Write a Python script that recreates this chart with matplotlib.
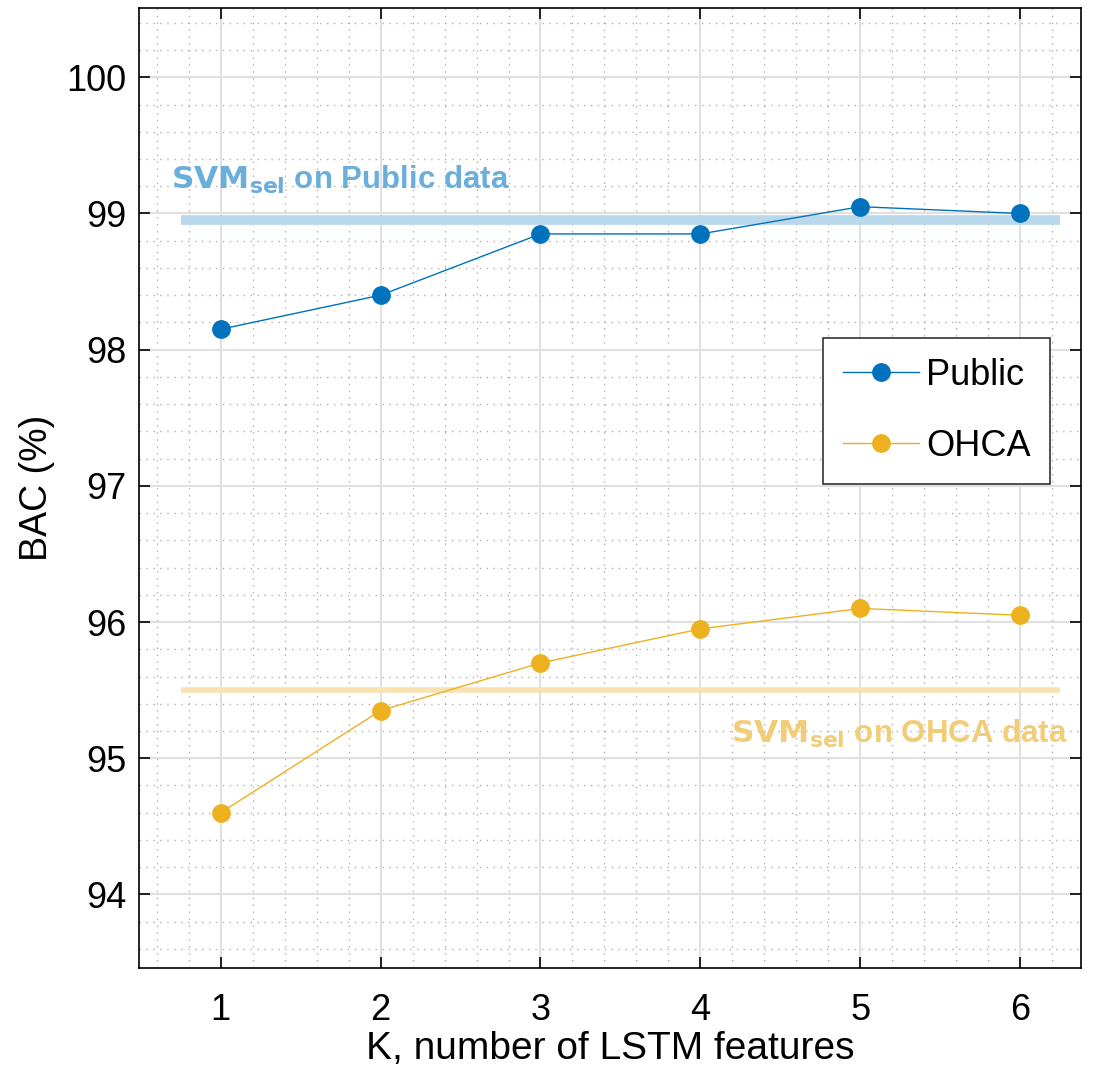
import numpy as np
import matplotlib.pyplot as plt
from matplotlib.ticker import MultipleLocator

plt.rcParams['font.family'] = ['Liberation Sans', 'DejaVu Sans']

k = [1, 2, 3, 4, 5, 6]
bac_public = [98.15, 98.4, 98.85, 98.85, 99.05, 99.0]
bac_ohca = [94.6, 95.35, 95.7, 95.95, 96.1, 96.05]
svm_public = 98.95
svm_ohca = 95.5

blue = '#0072BD'
yellow = '#EDB120'

fig = plt.figure(figsize=(11.07, 10.74), dpi=100)
ax = fig.add_axes([0.1256, 0.0987, 0.851, 0.894])

# reference levels of the SVM
ax.plot([0.75, 6.25], [svm_public, svm_public], color='#b9d8ec', lw=7, solid_capstyle='butt', zorder=2)
ax.plot([0.75, 6.25], [svm_ohca, svm_ohca], color='#f7e2b0', lw=4, solid_capstyle='butt', zorder=2)

ax.plot(k, bac_public, '-o', color=blue, lw=1, ms=12.5, label='Public', zorder=3)
ax.plot(k, bac_ohca, '-o', color=yellow, lw=1, ms=12.5, label='OHCA', zorder=3)

ax.text(0.69, 99.18, r'$\mathbf{SVM_{sel}}$ on Public data', color='#6aaedb', fontsize=22.5,
        fontweight='bold')
ax.text(4.19, 95.11, r'$\mathbf{SVM_{sel}}$ on OHCA data', color='#f2cd78', fontsize=22.5,
        fontweight='bold')

ax.set_xlim(0.49, 6.38)
ax.set_ylim(93.46, 100.51)
ax.xaxis.set_major_locator(MultipleLocator(1))
ax.yaxis.set_major_locator(MultipleLocator(1))
ax.xaxis.set_minor_locator(MultipleLocator(0.2))
ax.yaxis.set_minor_locator(MultipleLocator(0.2))
ax.grid(which='major', color='#e0e0e0', lw=1.5)
ax.grid(which='minor', color='#b0b0b0', lw=1, ls=(0, (1, 4)))
ax.set_axisbelow(True)

ax.tick_params(which='major', direction='in', length=8, width=1.2, top=True, right=True,
               labelsize=26)
ax.tick_params(axis='x', pad=18)
ax.tick_params(axis='y', pad=9)
ax.tick_params(which='minor', length=0)
for s in ax.spines.values():
    s.set_linewidth(1.2)

ax.set_xlabel('K, number of LSTM features', fontsize=28, labelpad=2)
ax.set_ylabel('BAC (%)', fontsize=27, labelpad=8)

leg = ax.legend(loc='upper left', bbox_to_anchor=(0.726, 0.656), fontsize=26, fancybox=False,
                edgecolor='#333333', framealpha=1, handlelength=2.1, borderpad=0.55,
                labelspacing=1.0, handletextpad=0.2, borderaxespad=0)
leg.get_frame().set_linewidth(1.2)

fig.savefig('out.png', dpi=100)
